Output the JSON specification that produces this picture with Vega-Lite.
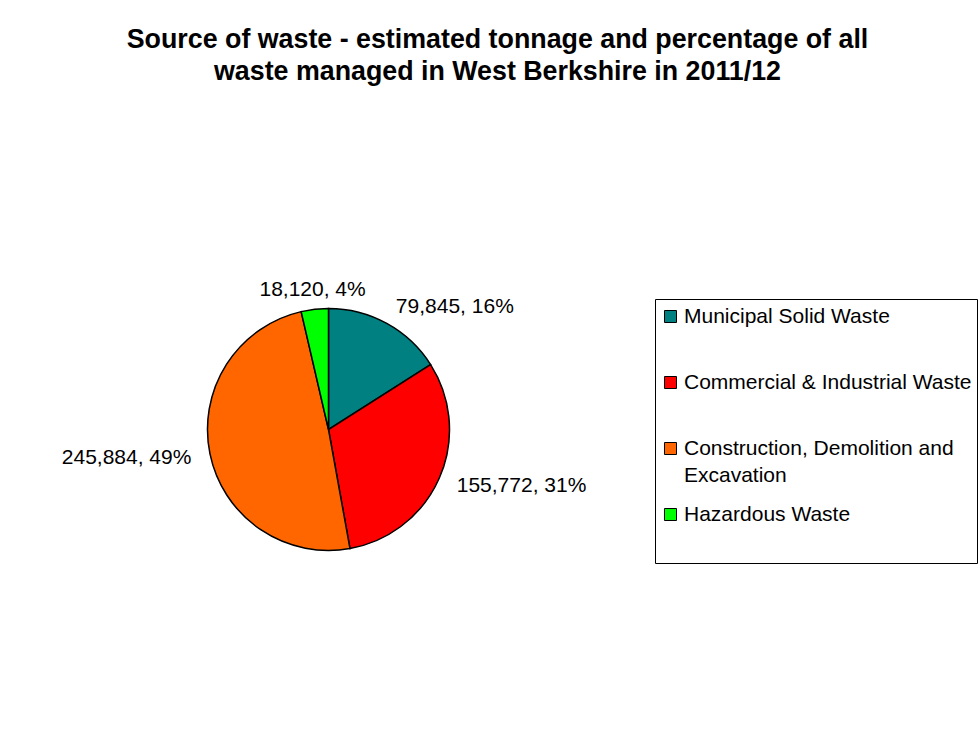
{
  "$schema": "https://vega.github.io/schema/vega-lite/v6.json",
  "autosize": {"type": "none"},
  "padding": {"left": 0, "top": 114, "right": 322, "bottom": 0},
  "width": 657,
  "height": 631,
  "background": "white",
  "title": {
    "text": ["Source of waste - estimated tonnage and percentage of all", "waste managed in West Berkshire in 2011/12"],
    "font": "Liberation Sans",
    "fontSize": 26.8,
    "fontWeight": "bold",
    "color": "black",
    "anchor": "middle",
    "frame": "group",
    "dx": 169,
    "offset": 28,
    "lineHeight": 32
  },
  "data": {
    "values": [
      {"source": "Municipal Solid Waste", "tonnes": 79845},
      {"source": "Commercial & Industrial Waste", "tonnes": 155772},
      {"source": "Construction, Demolition and Excavation", "tonnes": 245884},
      {"source": "Hazardous Waste", "tonnes": 18120}
    ]
  },
  "transform": [
    {"window": [{"op": "row_number", "as": "rank"}]},
    {"joinaggregate": [{"op": "sum", "field": "tonnes", "as": "total"}]},
    {"calculate": "format(datum.tonnes, ',') + ', ' + format(datum.tonnes / datum.total, '.0%')", "as": "label"}
  ],
  "encoding": {
    "theta": {"field": "tonnes", "type": "quantitative", "stack": true},
    "order": {"field": "rank", "type": "quantitative"}
  },
  "layer": [
    {
      "mark": {"type": "arc", "outerRadius": 121, "stroke": "black", "strokeWidth": 1.5},
      "encoding": {
        "color": {
          "field": "source",
          "type": "nominal",
          "scale": {
            "domain": ["Municipal Solid Waste", "Commercial & Industrial Waste", "Construction, Demolition and Excavation", "Hazardous Waste"],
            "range": ["#008080", "#FF0000", "#FF6600", "#00FF00"]
          },
          "legend": {
            "orient": "none",
            "legendX": 655,
            "legendY": 185,
            "title": "\u00a0",
            "titleOrient": "bottom",
            "titleFontSize": 21,
            "titlePadding": 10,
            "strokeColor": "black",
            "fillColor": "white",
            "padding": 5,
            "symbolType": "square",
            "symbolSize": 144,
            "symbolStrokeColor": "black",
            "symbolStrokeWidth": 1,
            "symbolOpacity": 1,
            "labelFont": "Liberation Sans",
            "labelFontSize": 21,
            "labelColor": "black",
            "labelLimit": 400,
            "labelOffset": 3,
            "clipHeight": 25,
            "gridAlign": "all",
            "rowPadding": 16,
            "labelExpr": "datum.label == 'Construction, Demolition and Excavation' ? ['Construction, Demolition and', 'Excavation'] : datum.label",
            "encode": {
              "labels": {
                "update": {
                  "lineHeight": {"value": 27.5}
                }
              }
            }
          }
        }
      }
    },
    {
      "mark": {
        "type": "text",
        "radius": 140,
        "font": "Liberation Sans",
        "fontSize": 21,
        "fill": "black",
        "baseline": "middle",
        "align": {"expr": "(datum.tonnes_start + datum.tonnes_end) / datum.total > 1.9 || (datum.tonnes_start + datum.tonnes_end) / datum.total < 0.1 ? 'center' : ((datum.tonnes_start + datum.tonnes_end) / datum.total < 1 ? 'left' : 'right')"}
      },
      "encoding": {
        "text": {"field": "label", "type": "nominal"}
      }
    }
  ],
  "config": {
    "view": {"stroke": null},
    "font": "Liberation Sans"
  }
}
